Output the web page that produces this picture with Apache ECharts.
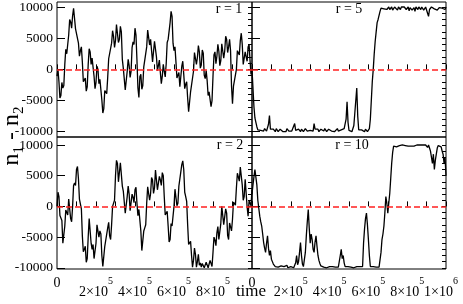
<!DOCTYPE html>
<html><head><meta charset="utf-8">
<script src="https://cdn.jsdelivr.net/npm/echarts@6/dist/echarts.min.js"></script>
<style>html,body{margin:0;padding:0;background:#fff}#c{width:463px;height:304px}</style>
</head><body><div id="c"></div>
<script>
// sampling interval of the traces (time units)
const TIME_STEP = 5000;

// r = 1 (top left)
const r1Values = [-1100,-50,-2000,-4600,-4200,-2100,-3000,-2600,800,3200,2500,2500,5500,8000,7600,6600,8600,9800,9500,6500,
  6500,6800,4200,2100,3000,3600,1200,-2000,-2200,-1400,-3500,-2800,800,3300,2800,800,1800,1800,-1100,-3100,
  -2100,500,0,-2300,-1600,-1700,-4900,-7000,-6300,-3400,-3500,-3900,-1300,1700,1800,1500,4200,6200,5300,3500,
  4600,7200,6900,4300,4800,6900,6000,1600,200,0,-3300,-3300,-300,1600,600,-1300,-300,3500,4400,4000,
  6600,5500,1500,-3000,-4500,-1200,-800,-3200,-2600,400,400,500,3600,6300,6000,3900,4800,4500,1200,1300,
  4500,4700,2000,-200,600,1500,-500,-2300,-1100,800,-300,-1200,900,4300,4800,4600,7500,9300,8500,4200,
  3000,3600,1200,-1400,-1100,-500,-2800,-2600,500,1300,-800,-3100,-2400,-2000,-4600,-6800,-6500,-3600,-3800,-3500,
  -300,2700,2800,800,1900,3800,2800,200,700,3100,2600,-900,-1500,-200,-1800,-4200,-3600,-3300,-6000,-5000,
  -1100,2300,2800,900,2100,4000,2900,600,1400,4100,3800,1800,2900,5300,4800,2700,3600,4800,3000,-2700,
  -5500,-2700,-3000,-3000,0,3000,3000,2300,4600,5800,4000,800,700,2800,2000,1300,3600,4000,1400,-800,0];

// r = 5 (top right)
const r5Values = [0,-3000,-6000,-7800,-8500,-9200,-9700,-9400,-10000,-9800,-9600,-10000,-9900,-9500,-9700,-9900,-10000,-8800,-7400,-9600,
  -9800,-9900,-9600,-9800,-10000,-9500,-9700,-10000,-9900,-9600,-9600,-9900,-10000,-9700,-9800,-10000,-9500,-9800,-9900,-9600,
  -9700,-9900,-10000,-9600,-8700,-9800,-9900,-9500,-9600,-9900,-10000,-9600,-9700,-10000,-9900,-9500,-9600,-9900,-10000,-9700,
  -9800,-10000,-9500,-9900,-8700,-9600,-9900,-9700,-9600,-10000,-10000,-9600,-9700,-9900,-9900,-9500,-9500,-10000,-10000,-9600,
  -9700,-9900,-9900,-9600,-9600,-10000,-9900,-9700,-9500,-9900,-10000,-9600,-9700,-10000,-9900,-9500,-9600,-8000,-5200,-8500,
  -9800,-9500,-9600,-10000,-9900,-9000,-7000,-5000,-3000,-7500,-9700,-9500,-9900,-9700,-9600,-10000,-10000,-9600,-9700,-10000,
  -9900,-9500,-8000,-5000,-2000,0,2500,4500,6000,7500,8000,7800,9300,9800,10000,9600,9700,9900,10000,9600,
  9800,10000,9600,9900,10000,9500,9800,10000,10000,9700,9500,10000,9900,9600,10000,9800,9700,10000,10000,9600,
  9800,10000,9400,9900,10000,9500,9700,9900,9300,10000,9900,9600,10000,9700,9600,10000,10000,9500,9800,10000,
  9700,9000,8500,9600,9900,10000,10000,9700,9700,10000,10000,9500,9600,9900,10000,9700,9800,10000,10000,9600,10000];

// r = 2 (bottom left)
const r2Values = [0,2300,1600,-1500,-1600,-2300,-6000,-6100,-3200,-600,-1000,-1400,1200,1100,-2000,-2500,0,3400,3800,3400,
  6000,6500,4500,1200,1000,-400,-4800,-7400,-7000,-6500,-9100,-8500,-5000,-2000,-2000,-6000,-7000,-6200,-8500,-8700,
  -6000,-3000,-3000,-5000,-4000,-4500,-8000,-9800,-9600,-6500,-6500,-6500,-3500,-2600,-4800,-5400,-3000,0,0,1000,
  5000,7500,7000,4000,4000,7100,7200,3300,2500,2200,-1100,-1200,1600,3300,2000,-700,-500,2000,1500,600,
  2700,3100,500,-1500,-500,-700,-4000,-7200,-7500,-4000,-3500,-3000,500,3200,3000,1000,2100,4700,4300,2100,
  3000,5900,5900,2700,2500,4900,4300,3400,5500,5000,1600,-1400,-1500,-800,-3200,-5800,-5400,-2800,-3200,-3100,
  0,2800,2700,100,500,3300,3200,3500,6800,7400,6000,2300,1600,800,-3000,-6200,-6500,-5700,-8000,-9900,
  -8800,-6800,-7800,-9900,-9000,-7800,-9600,-9200,-9900,-9300,-9500,-10000,-9900,-9100,-9200,-10000,-9700,-8800,-9100,-9800,
  -7500,-5000,-5500,-6400,-4300,-3300,-5400,-5600,-2800,0,-300,-3000,-2700,-400,-1100,-4700,-5400,-2700,-3000,-4000,
  -2100,700,500,200,3000,5400,4800,4100,6400,6400,3500,1000,1600,4400,4300,-100,-1600,900,500,100,2700];

// r = 10 (bottom right)
const r10Values = [2000,3500,4800,6000,5900,3500,1000,-300,-1600,-2500,-3200,-4500,-5900,-6800,-7500,-6000,-4800,-6800,-8000,-7200,
  -8600,-9000,-9400,-9700,-9800,-10000,-9600,-9900,-9900,-9700,-9700,-10000,-9900,-9800,-9800,-9900,-9600,-10000,-9900,-9700,
  -9800,-9900,-9700,-10000,-9900,-9200,-8000,-9500,-9000,-7500,-5900,-8000,-9400,-9800,-9600,-7500,-4800,-2500,-500,-3500,
  -6000,-4500,-5400,-7000,-7500,-5800,-4800,-6500,-8000,-8800,-9300,-9700,-9800,-10000,-9900,-9800,-9800,-10000,-9900,-9800,
  -9800,-10000,-9900,-9800,-9800,-10000,-9900,-9800,-9800,-9900,-9800,-8000,-7000,-8500,-8000,-9200,-9800,-10000,-9900,-9800,
  -9800,-10000,-9900,-9800,-9800,-10000,-9900,-9800,-9800,-10000,-9900,-9800,-9800,-9900,-9800,-6000,-3700,-2000,-1100,-3000,
  -5400,-8000,-9800,-10000,-9900,-9800,-9800,-10000,-9900,-9800,-9800,-9900,-9800,-7500,-5400,-4500,-3200,-1000,1600,500,
  -1100,500,2100,4500,7000,8800,9800,10000,9900,9700,10000,9800,9900,10000,9800,10000,10000,9700,9900,10000,
  10000,9800,9900,10000,9800,9600,10000,9800,9900,10000,10000,9800,9900,10000,9900,9700,10000,9900,9800,10000,
  9900,9600,10000,9500,9000,8000,7000,8500,6000,7500,8500,9500,9900,10000,9900,9700,9000,8500,7000,8000,5000];

const panelLabels = ['r = 1', 'r = 5', 'r = 2', 'r = 10'];
const yMajorTicks = [-10000, -5000, 0, 5000, 10000];
const yMinorTicks = [-10000,-9000,-8000,-7000,-6000,-5000,-4000,-3000,-2000,-1000,0,1000,2000,3000,4000,5000,6000,7000,8000,9000,10000];
const xTitle = 'time';

const SERIF = '"Liberation Serif","DejaVu Serif",serif';
const grids = [
  {left: 57, top: 2, width: 195, height: 135},
  {left: 252, top: 2, width: 194, height: 135},
  {left: 57, top: 137, width: 195, height: 132},
  {left: 252, top: 137, width: 194, height: 132}
];
const yRanges = [[-10850, 10800], [-10850, 10800], [-10200, 11300], [-10200, 11300]];
const seriesValues = [r1Values, r5Values, r2Values, r10Values];

function xFmt(panel) {
  return function (v) {
    if (v % 200000 !== 0) return '';
    if (v === 0) return '{z|0}';
    if (v === 1000000) return panel === 2 ? '' : '{b|1×10}{s6|6}';
    return '{b|' + (v / 100000) + '×10}{s|5}';
  };
}
const xRich = {
  z: {fontFamily: SERIF, fontSize: 14, color: '#000', verticalAlign: 'top'},
  b: {fontFamily: SERIF, fontSize: 14, color: '#000', verticalAlign: 'top', padding: [9, 0, 0, 0]},
  s: {fontFamily: SERIF, fontSize: 10, color: '#000', verticalAlign: 'top'},
  s6: {fontFamily: SERIF, fontSize: 10, color: '#000', verticalAlign: 'top', padding: [0, 10, 0, 0]}
};

const xAxes = grids.map((g, i) => ({
  type: 'value', gridIndex: i, min: 0, max: 1000000, interval: 100000,
  axisLine: {show: false}, splitLine: {show: false},
  axisTick: {show: true, inside: true, length: 5, lineStyle: {color: '#000', width: 1}},
  axisLabel: {show: i >= 2, margin: 7, formatter: xFmt(i), rich: xRich}
}));

const yAxes = [];
grids.forEach((g, i) => {
  yAxes.push({
    type: 'value', gridIndex: i, min: yRanges[i][0], max: yRanges[i][1],
    axisLine: {show: false}, splitLine: {show: false},
    axisTick: {show: true, inside: true, length: 8, customValues: yMajorTicks, lineStyle: {color: '#000', width: 1}},
    axisLabel: {show: i % 2 === 0, customValues: yMajorTicks, margin: 4, fontFamily: SERIF, fontSize: 13.5, color: '#000',
      formatter: v => String(v)}
  });
});
grids.forEach((g, i) => {
  yAxes.push({
    type: 'value', gridIndex: i, min: yRanges[i][0], max: yRanges[i][1],
    axisLine: {show: false}, splitLine: {show: false},
    axisTick: {show: true, inside: true, length: 4, customValues: yMinorTicks, lineStyle: {color: '#000', width: 1}},
    axisLabel: {show: false}
  });
});

const series = seriesValues.map((vals, i) => ({
  type: 'line', xAxisIndex: i, yAxisIndex: i,
  data: vals.map((v, k) => [k * TIME_STEP, v]),
  showSymbol: false, symbol: 'none', silent: true, smooth: false,
  lineStyle: {color: '#000', width: 1.3},
  markLine: {
    silent: true, symbol: ['none', 'none'], label: {show: false},
    lineStyle: {color: '#ff2020', type: [6, 3], width: 1.5},
    data: [{yAxis: 0}]
  }
}));

const labelPos = [[229, 9], [349, 9], [230, 145], [352, 145]];
const graphic = panelLabels.map((t, i) => ({
  type: 'text', x: labelPos[i][0], y: labelPos[i][1], silent: true,
  style: {text: t, align: 'center', verticalAlign: 'middle', font: '14px ' + SERIF, fill: '#000'}
}));
graphic.push({
  type: 'text', x: 251, y: 292, silent: true,
  style: {text: xTitle, align: 'center', verticalAlign: 'middle', font: '17px ' + SERIF, fill: '#000'}
});
graphic.push({
  type: 'text', x: 13, y: 136, rotation: Math.PI / 2, silent: true,
  style: {
    text: '{n|n}{s|1}{n| - n}{s|2}', align: 'center', verticalAlign: 'middle', fill: '#000',
    rich: {
      n: {fontFamily: SERIF, fontSize: 24, fill: '#000', verticalAlign: 'top'},
      s: {fontFamily: SERIF, fontSize: 15, fill: '#000', verticalAlign: 'top', padding: [12, 0, 0, 0]}
    }
  }
});

const chart = echarts.init(document.getElementById('c'), null, {renderer: 'canvas'});
chart.setOption({
  animation: false,
  backgroundColor: '#fff',
  grid: grids.map(g => Object.assign({show: true, borderColor: '#000', borderWidth: 1, backgroundColor: 'transparent'}, g)),
  xAxis: xAxes,
  yAxis: yAxes,
  series: series,
  graphic: graphic
});
</script>
</body></html>
